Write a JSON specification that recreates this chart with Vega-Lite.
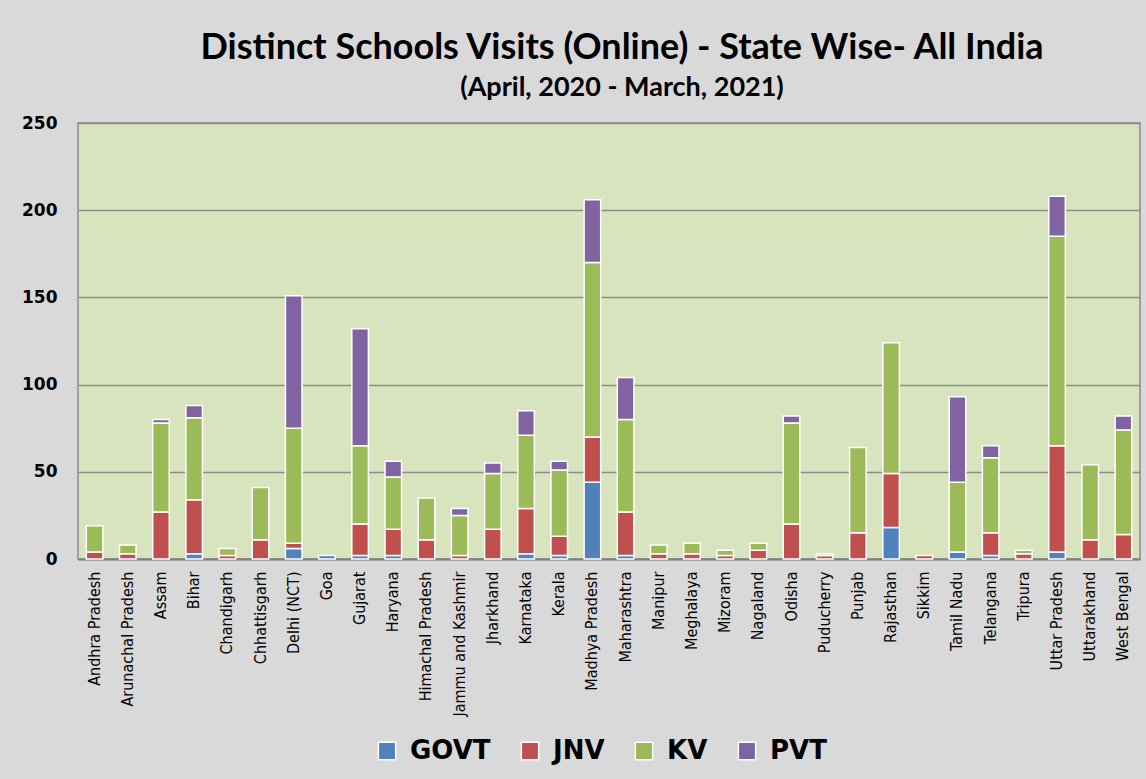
{
  "$schema": "https://vega.github.io/schema/vega-lite/v6.json",
  "width": 1062,
  "height": 436,
  "autosize": {"type": "none"},
  "padding": {"left": 78, "top": 123, "right": 6, "bottom": 220},
  "background": "#d9d9d9",
  "title": {
    "text": "Distinct Schools Visits (Online) - State Wise- All India",
    "subtitle": "(April, 2020 - March, 2021)",
    "anchor": "middle",
    "frame": "group",
    "dx": 13,
    "offset": 12,
    "font": "Lato",
    "fontSize": 36,
    "fontWeight": "bold",
    "color": "#000000",
    "subtitleFont": "Lato",
    "subtitleFontSize": 27,
    "subtitleFontWeight": "bold",
    "subtitleColor": "#000000",
    "subtitlePadding": 8
  },
  "data": {
    "values": [
      {"state": "Andhra Pradesh", "type": "JNV", "visits": 4},
      {"state": "Andhra Pradesh", "type": "KV", "visits": 15},
      {"state": "Arunachal Pradesh", "type": "JNV", "visits": 3},
      {"state": "Arunachal Pradesh", "type": "KV", "visits": 5},
      {"state": "Assam", "type": "JNV", "visits": 27},
      {"state": "Assam", "type": "KV", "visits": 51},
      {"state": "Assam", "type": "PVT", "visits": 2},
      {"state": "Bihar", "type": "GOVT", "visits": 3},
      {"state": "Bihar", "type": "JNV", "visits": 31},
      {"state": "Bihar", "type": "KV", "visits": 47},
      {"state": "Bihar", "type": "PVT", "visits": 7},
      {"state": "Chandigarh", "type": "JNV", "visits": 2},
      {"state": "Chandigarh", "type": "KV", "visits": 4},
      {"state": "Chhattisgarh", "type": "JNV", "visits": 11},
      {"state": "Chhattisgarh", "type": "KV", "visits": 30},
      {"state": "Delhi (NCT)", "type": "GOVT", "visits": 6},
      {"state": "Delhi (NCT)", "type": "JNV", "visits": 3},
      {"state": "Delhi (NCT)", "type": "KV", "visits": 66},
      {"state": "Delhi (NCT)", "type": "PVT", "visits": 76},
      {"state": "Goa", "type": "GOVT", "visits": 2},
      {"state": "Gujarat", "type": "GOVT", "visits": 2},
      {"state": "Gujarat", "type": "JNV", "visits": 18},
      {"state": "Gujarat", "type": "KV", "visits": 45},
      {"state": "Gujarat", "type": "PVT", "visits": 67},
      {"state": "Haryana", "type": "GOVT", "visits": 2},
      {"state": "Haryana", "type": "JNV", "visits": 15},
      {"state": "Haryana", "type": "KV", "visits": 30},
      {"state": "Haryana", "type": "PVT", "visits": 9},
      {"state": "Himachal Pradesh", "type": "JNV", "visits": 11},
      {"state": "Himachal Pradesh", "type": "KV", "visits": 24},
      {"state": "Jammu and Kashmir", "type": "JNV", "visits": 2},
      {"state": "Jammu and Kashmir", "type": "KV", "visits": 23},
      {"state": "Jammu and Kashmir", "type": "PVT", "visits": 4},
      {"state": "Jharkhand", "type": "JNV", "visits": 17},
      {"state": "Jharkhand", "type": "KV", "visits": 32},
      {"state": "Jharkhand", "type": "PVT", "visits": 6},
      {"state": "Karnataka", "type": "GOVT", "visits": 3},
      {"state": "Karnataka", "type": "JNV", "visits": 26},
      {"state": "Karnataka", "type": "KV", "visits": 42},
      {"state": "Karnataka", "type": "PVT", "visits": 14},
      {"state": "Kerala", "type": "GOVT", "visits": 2},
      {"state": "Kerala", "type": "JNV", "visits": 11},
      {"state": "Kerala", "type": "KV", "visits": 38},
      {"state": "Kerala", "type": "PVT", "visits": 5},
      {"state": "Madhya Pradesh", "type": "GOVT", "visits": 44},
      {"state": "Madhya Pradesh", "type": "JNV", "visits": 26},
      {"state": "Madhya Pradesh", "type": "KV", "visits": 100},
      {"state": "Madhya Pradesh", "type": "PVT", "visits": 36},
      {"state": "Maharashtra", "type": "GOVT", "visits": 2},
      {"state": "Maharashtra", "type": "JNV", "visits": 25},
      {"state": "Maharashtra", "type": "KV", "visits": 53},
      {"state": "Maharashtra", "type": "PVT", "visits": 24},
      {"state": "Manipur", "type": "JNV", "visits": 3},
      {"state": "Manipur", "type": "KV", "visits": 5},
      {"state": "Meghalaya", "type": "JNV", "visits": 3},
      {"state": "Meghalaya", "type": "KV", "visits": 6},
      {"state": "Mizoram", "type": "JNV", "visits": 2},
      {"state": "Mizoram", "type": "KV", "visits": 3},
      {"state": "Nagaland", "type": "JNV", "visits": 5},
      {"state": "Nagaland", "type": "KV", "visits": 4},
      {"state": "Odisha", "type": "JNV", "visits": 20},
      {"state": "Odisha", "type": "KV", "visits": 58},
      {"state": "Odisha", "type": "PVT", "visits": 4},
      {"state": "Puducherry", "type": "JNV", "visits": 2},
      {"state": "Puducherry", "type": "KV", "visits": 1},
      {"state": "Punjab", "type": "JNV", "visits": 15},
      {"state": "Punjab", "type": "KV", "visits": 49},
      {"state": "Rajasthan", "type": "GOVT", "visits": 18},
      {"state": "Rajasthan", "type": "JNV", "visits": 31},
      {"state": "Rajasthan", "type": "KV", "visits": 75},
      {"state": "Sikkim", "type": "JNV", "visits": 2},
      {"state": "Tamil Nadu", "type": "GOVT", "visits": 4},
      {"state": "Tamil Nadu", "type": "KV", "visits": 40},
      {"state": "Tamil Nadu", "type": "PVT", "visits": 49},
      {"state": "Telangana", "type": "GOVT", "visits": 2},
      {"state": "Telangana", "type": "JNV", "visits": 13},
      {"state": "Telangana", "type": "KV", "visits": 43},
      {"state": "Telangana", "type": "PVT", "visits": 7},
      {"state": "Tripura", "type": "JNV", "visits": 3},
      {"state": "Tripura", "type": "KV", "visits": 2},
      {"state": "Uttar Pradesh", "type": "GOVT", "visits": 4},
      {"state": "Uttar Pradesh", "type": "JNV", "visits": 61},
      {"state": "Uttar Pradesh", "type": "KV", "visits": 120},
      {"state": "Uttar Pradesh", "type": "PVT", "visits": 23},
      {"state": "Uttarakhand", "type": "JNV", "visits": 11},
      {"state": "Uttarakhand", "type": "KV", "visits": 43},
      {"state": "West Bengal", "type": "JNV", "visits": 14},
      {"state": "West Bengal", "type": "KV", "visits": 60},
      {"state": "West Bengal", "type": "PVT", "visits": 8}
    ]
  },
  "mark": {"type": "bar", "stroke": "#ffffff", "strokeWidth": 1.5},
  "encoding": {
    "x": {
      "field": "state",
      "type": "nominal",
      "sort": null,
      "scale": {"paddingInner": 0.5, "paddingOuter": 0.25},
      "axis": {
        "title": null,
        "labelAngle": -90,
        "labelFont": "Liberation Sans Narrow, DejaVu Sans Condensed, Liberation Sans",
        "labelFontSize": 16,
        "labelColor": "#000000",
        "labelPadding": 12,
        "labelLimit": 300,
        "ticks": false,
        "domain": true,
        "domainColor": "#808080",
        "domainWidth": 2
      }
    },
    "y": {
      "field": "visits",
      "type": "quantitative",
      "aggregate": "sum",
      "stack": "zero",
      "scale": {"domain": [0, 250], "nice": false},
      "axis": {
        "title": null,
        "values": [0, 50, 100, 150, 200, 250],
        "domain": false,
        "ticks": false,
        "labelPadding": 21,
        "labelFont": "DejaVu Sans",
        "labelFontWeight": "bold",
        "labelFontSize": 17,
        "labelColor": "#000000",
        "gridColor": "#8c8c8c",
        "gridWidth": 1.5
      }
    },
    "color": {
      "field": "type",
      "type": "nominal",
      "scale": {
        "domain": ["GOVT", "JNV", "KV", "PVT"],
        "range": ["#4f81bd", "#c0504d", "#9bbb59", "#8064a2"]
      },
      "legend": {
        "title": null,
        "orient": "none",
        "legendX": 296,
        "legendY": 615,
        "direction": "horizontal",
        "columns": 4,
        "columnPadding": 26,
        "symbolType": "square",
        "symbolSize": 300,
        "symbolStrokeColor": "#ffffff",
        "symbolStrokeWidth": 1.5,
        "symbolOpacity": 1,
        "labelFont": "DejaVu Sans",
        "labelFontWeight": "bold",
        "labelFontSize": 26,
        "labelColor": "#000000",
        "labelOffset": 10,
        "labelLimit": 200
      }
    },
    "order": {"field": "type", "sort": "ascending"}
  },
  "config": {
    "view": {"fill": "#d7e4bd", "stroke": "#8c8c8c", "strokeWidth": 1.5}
  }
}
